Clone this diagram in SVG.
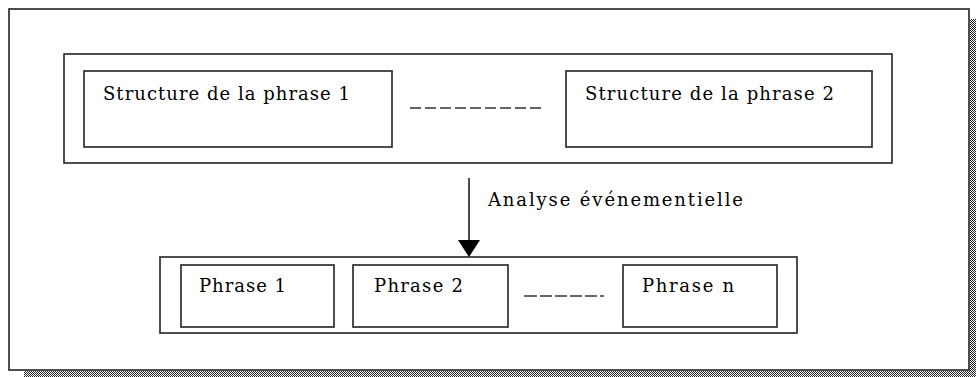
<svg xmlns="http://www.w3.org/2000/svg" width="976" height="377" viewBox="0 0 976 377">
  <defs>
    <pattern id="dither" width="2" height="2" patternUnits="userSpaceOnUse">
      <rect width="2" height="2" fill="#ffffff"/>
      <rect x="0" y="0" width="1" height="1" fill="#222222"/>
      <rect x="1" y="1" width="1" height="1" fill="#222222"/>
    </pattern>
  </defs>
  <style>
    .box { fill: #ffffff; stroke: #222222; stroke-width: 1.6; }
    .lbl { font-family: 'DejaVu Serif', 'Liberation Serif', serif; font-size: 18px; fill: #000000; }
    .dash { stroke: #333333; stroke-width: 1.6; fill: none; }
    .conn { stroke: #000000; stroke-width: 1.4; fill: none; }
    .head { fill: #000000; stroke: none; }
  </style>
  <rect width="976" height="377" fill="#ffffff"/>

  <g id="frame">
    <rect x="970" y="19" width="6" height="358" fill="url(#dither)"/>
    <rect x="24" y="371" width="952" height="6" fill="url(#dither)"/>
    <rect class="box" x="9" y="9" width="960" height="361"/>
  </g>

  <g id="structures">
    <rect class="box" x="64" y="54" width="828" height="109"/>
  </g>

  <g id="structure1">
    <rect class="box" x="84" y="71" width="308" height="76"/>
    <text class="lbl" x="103" y="100" textLength="247" lengthAdjust="spacing">Structure de la phrase 1</text>
  </g>

  <g id="structure2">
    <rect class="box" x="566" y="71" width="306" height="76"/>
    <text class="lbl" x="585" y="100" textLength="249" lengthAdjust="spacing">Structure de la phrase 2</text>
  </g>

  <g id="phrases">
    <rect class="box" x="160" y="257" width="637" height="76"/>
  </g>

  <g id="phrase1">
    <rect class="box" x="181" y="265" width="153" height="62"/>
    <text class="lbl" x="199" y="292" textLength="87" lengthAdjust="spacing">Phrase 1</text>
  </g>

  <g id="phrase2">
    <rect class="box" x="353" y="265" width="155" height="62"/>
    <text class="lbl" x="374" y="292" textLength="89" lengthAdjust="spacing">Phrase 2</text>
  </g>

  <g id="phrasen">
    <rect class="box" x="623" y="265" width="154" height="62"/>
    <text class="lbl" x="642" y="292" textLength="92" lengthAdjust="spacing">Phrase n</text>
  </g>

  <g id="ellipses">
    <line class="dash" x1="410" y1="108" x2="541" y2="108" stroke-dasharray="11 4"/>
    <path class="dash" d="M524,296 H537 M540,296 H552 M555,296 H567 M570,296 H582 M585,296 H597 M600,296 H604"/>
  </g>

  <g id="connectors">
    <line class="conn" x1="469" y1="178" x2="469" y2="242"/>
    <path class="head" d="M458,240 L480,240 L469,257 Z"/>
    <text class="lbl" x="488" y="206" textLength="255" lengthAdjust="spacing">Analyse événementielle</text>
  </g>
</svg>
